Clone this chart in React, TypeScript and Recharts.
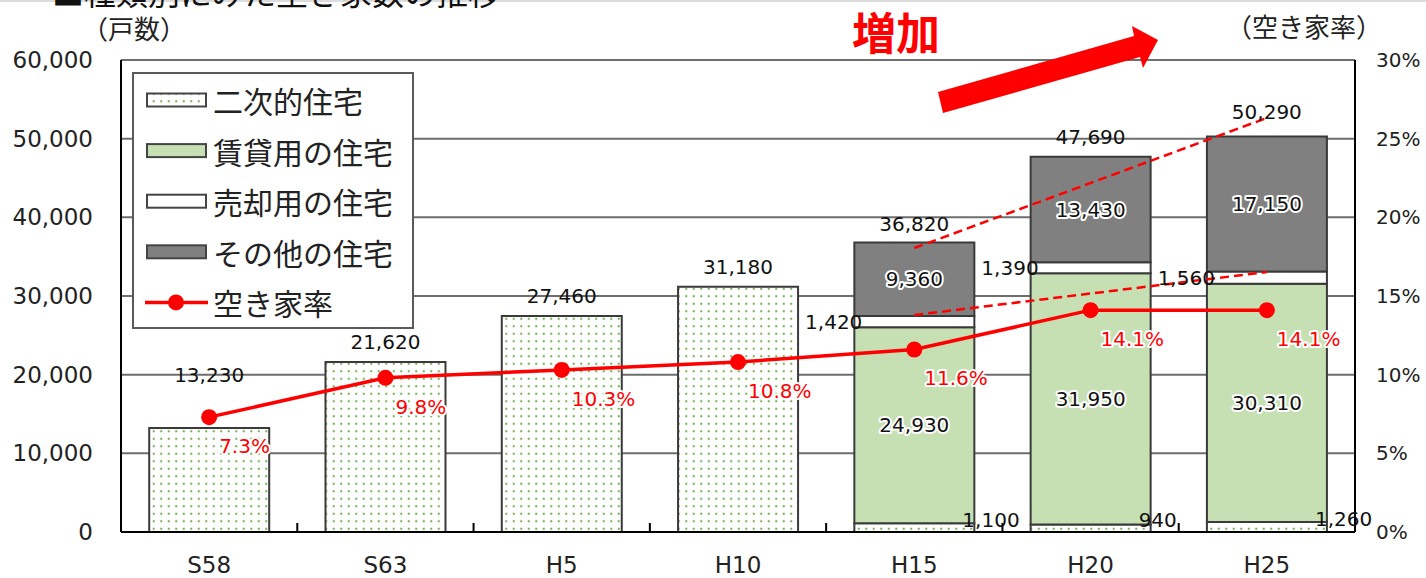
import React from 'react';
import {
  ComposedChart,
  Bar,
  Line,
  XAxis,
  YAxis,
  CartesianGrid,
  LabelList,
  ReferenceLine,
} from 'recharts';

// ---------- data ----------
const categories = ['S58', 'S63', 'H5', 'H10', 'H15', 'H20', 'H25'];
const secondHome = [13230, 21620, 27460, 31180, 1100, 940, 1260];
const rental = [null, null, null, null, 24930, 31950, 30310];
const forSale = [null, null, null, null, 1420, 1390, 1560];
const otherHomes = [null, null, null, null, 9360, 13430, 17150];
const totals = [13230, 21620, 27460, 31180, 36820, 47690, 50290];
const vacancyRate = [7.3, 9.8, 10.3, 10.8, 11.6, 14.1, 14.1];
const leftTicks = [0, 10000, 20000, 30000, 40000, 50000, 60000];
const rightTicks = [0, 5, 10, 15, 20, 25, 30];
const seriesNames = ['二次的住宅', '賃貸用の住宅', '売却用の住宅', 'その他の住宅', '空き家率'];
const trendUpper = [36100, 52630]; // dashed guide, values at H15 and H25
const trendLower = [27580, 33050];

// label lift (px) of total labels above the bar tops
const totalLabelLift = [53, 20, 20, 20, 18, 20, 24];

const data = categories.map((c, i) => ({
  cat: c,
  secondHome: secondHome[i],
  rental: rental[i],
  forSale: forSale[i],
  other: otherHomes[i],
  total: totals[i],
  rate: vacancyRate[i],
}));

// ---------- style ----------
const FONT_NUM = '"DejaVu Sans", "Noto Sans CJK JP", sans-serif';
const FONT_JP = '"Noto Sans CJK JP", "Noto Sans", sans-serif';
const GREEN = '#c6e0b4';
const GRAY = '#808080';
const RED = '#ff0000';
const DOT_GREEN = '#6fae4e';
const BAR_STROKE = '#3a3a3a';

const fmt = (v: number) => v.toLocaleString('en-US');

const box = (p: any) => {
  const v = p.viewBox && p.viewBox.x != null ? p.viewBox : p;
  return { x: Number(v.x), y: Number(v.y), width: Number(v.width || 0), height: Number(v.height || 0) };
};

const halo = { stroke: '#ffffff', strokeWidth: 4, paintOrder: 'stroke', strokeLinejoin: 'round' } as any;

const InsideLabel = (p: any) => {
  if (p.value == null || p.value === 0) return null;
  const { x, y, width, height } = box(p);
  if (!height) return null;
  return (
    <text x={x + width / 2} y={y + height / 2} textAnchor="middle" dominantBaseline="central"
      fontSize={20} fontFamily={FONT_NUM} fill="#111" style={halo}>
      {fmt(p.value)}
    </text>
  );
};

const ForSaleLabel = (p: any) => {
  if (p.value == null || p.value === 0) return null;
  const { x, y, height } = box(p);
  return (
    <text x={x + 8} y={y + height / 2} textAnchor="end" dominantBaseline="central"
      fontSize={20} fontFamily={FONT_NUM} fill="#111">
      {fmt(p.value)}
    </text>
  );
};

const SecondHomeLabel = (p: any) => {
  if (p.value == null || p.value > 5000) return null;
  const { x, y, width, height } = box(p);
  return (
    <text x={x + width - 12} y={y + height / 2 - 8} textAnchor="start" dominantBaseline="central"
      fontSize={20} fontFamily={FONT_NUM} fill="#111">
      {fmt(p.value)}
    </text>
  );
};

const TotalLabel = (p: any) => {
  if (p.value == null) return null;
  const { x, y } = box(p);
  let idx = typeof p.index === 'number' ? p.index : totals.indexOf(Number(p.value));
  if (idx < 0) idx = 0;
  return (
    <text x={x} y={y - totalLabelLift[idx]} textAnchor="middle" dominantBaseline="central"
      fontSize={20} fontFamily={FONT_NUM} fill="#111">
      {fmt(p.value)}
    </text>
  );
};

const RateLabel = (p: any) => {
  if (p.value == null) return null;
  const { x, y } = box(p);
  return (
    <text x={x + 10} y={y + 29} textAnchor="start" dominantBaseline="central"
      fontSize={20} fontFamily={FONT_NUM} fill={RED} style={halo}>
      {`${p.value}%`}
    </text>
  );
};

const HALF_BAND = (1355 - 121) / categories.length / 2;

const XTick = (p: any) => {
  const { x, y, payload } = p;
  const off = payload && payload.offset ? payload.offset : HALF_BAND;
  const isLast = payload.value === categories[categories.length - 1];
  return (
    <g>
      {!isLast && (
        <line x1={x + off} x2={x + off} y1={y} y2={y - 9} stroke="#000" strokeWidth={2} />
      )}
      <text x={x} y={y + 33} textAnchor="middle" dominantBaseline="central"
        fontSize={23} fontFamily={FONT_NUM} fill="#222">
        {payload.value}
      </text>
    </g>
  );
};

const DotPattern = ({ id }: { id: string }) => (
  <pattern id={id} patternUnits="userSpaceOnUse" width={7.5} height={7.5}>
    <rect width={7.5} height={7.5} fill="#ffffff" />
    <circle cx={3.75} cy={3.75} r={1.1} fill={DOT_GREEN} />
  </pattern>
);

const legendRows = [
  { kind: 'rect', fill: 'url(#dotsLegend)' },
  { kind: 'rect', fill: GREEN },
  { kind: 'rect', fill: '#ffffff' },
  { kind: 'rect', fill: GRAY },
  { kind: 'line', fill: RED },
];

export default function App() {
  return (
    <div style={{ position: 'relative', width: 1426, height: 578, background: '#fff', overflow: 'hidden' }}>
      <style>{`body{margin:0;}`}</style>
      <div style={{ position: 'absolute', left: 0, top: 0 }}>
        <ComposedChart width={1426} height={578} data={data}
          margin={{ top: 60, right: 0, bottom: 0, left: 0 }} barCategoryGap="16%">
          <defs>
            <DotPattern id="dotsBar" />
          </defs>
          <CartesianGrid yAxisId="left" vertical={false} stroke="#6e6e6e" strokeWidth={2} />
          <XAxis dataKey="cat" height={46} tickSize={0} tickMargin={0} tickLine={false}
            axisLine={{ stroke: '#000', strokeWidth: 2 }} tick={<XTick />} interval={0} />
          <YAxis yAxisId="left" orientation="left" width={121} domain={[0, 60000]} ticks={leftTicks}
            tickFormatter={(v: number) => fmt(v)} tickSize={0} tickMargin={28} tickLine={false}
            axisLine={{ stroke: '#000', strokeWidth: 2 }} interval={0}
            tick={{ fontSize: 23, fill: '#222', fontFamily: FONT_NUM }} />
          <YAxis yAxisId="right" orientation="right" width={71} domain={[0, 30]} ticks={rightTicks}
            tickFormatter={(v: number) => `${v}%`} tickSize={0} tickMargin={21} tickLine={false}
            axisLine={{ stroke: '#000', strokeWidth: 2 }} interval={0}
            tick={{ fontSize: 20, fill: '#222', fontFamily: FONT_NUM }} />

          <Bar yAxisId="left" dataKey="secondHome" name={seriesNames[0]} stackId="s" fill="url(#dotsBar)"
            stroke={BAR_STROKE} strokeWidth={2} isAnimationActive={false}>
            <LabelList dataKey="secondHome" content={SecondHomeLabel} />
          </Bar>
          <Bar yAxisId="left" dataKey="rental" name={seriesNames[1]} stackId="s" fill={GREEN}
            stroke={BAR_STROKE} strokeWidth={2} isAnimationActive={false}>
            <LabelList dataKey="rental" content={InsideLabel} />
          </Bar>
          <Bar yAxisId="left" dataKey="forSale" name={seriesNames[2]} stackId="s" fill="#ffffff"
            stroke={BAR_STROKE} strokeWidth={2} isAnimationActive={false}>
            <LabelList dataKey="forSale" content={ForSaleLabel} />
          </Bar>
          <Bar yAxisId="left" dataKey="other" name={seriesNames[3]} stackId="s" fill={GRAY}
            stroke={BAR_STROKE} strokeWidth={2} isAnimationActive={false}>
            <LabelList dataKey="other" content={InsideLabel} />
          </Bar>

          <Line yAxisId="left" dataKey="total" stroke="none" dot={false} activeDot={false}
            legendType="none" isAnimationActive={false}>
            <LabelList dataKey="total" content={TotalLabel} />
          </Line>

          <ReferenceLine yAxisId="left" ifOverflow="visible"
            segment={[{ x: 'H15', y: trendUpper[0] }, { x: 'H25', y: trendUpper[1] }]}
            stroke={RED} strokeWidth={2.5} strokeDasharray="9 5" />
          <ReferenceLine yAxisId="left" ifOverflow="visible"
            segment={[{ x: 'H15', y: trendLower[0] }, { x: 'H25', y: trendLower[1] }]}
            stroke={RED} strokeWidth={2.5} strokeDasharray="9 5" />

          <Line yAxisId="right" dataKey="rate" name={seriesNames[4]} stroke={RED} strokeWidth={3.5}
            dot={{ r: 8, fill: RED, stroke: RED, strokeWidth: 0 }} activeDot={false}
            isAnimationActive={false}>
            <LabelList dataKey="rate" content={RateLabel} />
          </Line>
        </ComposedChart>
      </div>

      <svg width={1426} height={578} style={{ position: 'absolute', left: 0, top: 0, pointerEvents: 'none' }}>
        <defs>
          <DotPattern id="dotsLegend" />
        </defs>
        <rect x={0} y={0} width={1426} height={2} fill="#dcdcdc" />
        <text x={52} y={5} fontSize={32} fontFamily={FONT_JP} fill="#111">■種類別にみた空き家数の推移</text>
        <text x={82} y={27} dominantBaseline="central" fontSize={26} fontFamily={FONT_JP} fill="#222">（戸数）</text>
        <text x={1226} y={25} dominantBaseline="central" fontSize={26} fontFamily={FONT_JP} fill="#222">（空き家率）</text>
        <text x={852} y={31} dominantBaseline="central" fontSize={44} fontWeight="bold" fontFamily={FONT_JP} fill={RED}>増加</text>
        <polygon points="938,92 1134,36 1132,26 1158,40 1143,68 1140,57 943,113" fill={RED} />

        {/* legend */}
        <rect x={133} y={73} width={280} height={255} fill="#ffffff" stroke="#5a5a5a" strokeWidth={2} />
        {legendRows.map((r, i) => {
          const cy = 100 + i * 50.6;
          return (
            <g key={i}>
              {r.kind === 'rect' ? (
                <rect x={147} y={cy - 6.5} width={59} height={13} fill={r.fill} stroke="#444" strokeWidth={2} />
              ) : (
                <g>
                  <line x1={145} x2={208} y1={cy} y2={cy} stroke={RED} strokeWidth={3.5} />
                  <circle cx={176} cy={cy} r={8} fill={RED} />
                </g>
              )}
              <text x={213} y={cy} dominantBaseline="central" fontSize={30} fontFamily={FONT_JP} fill="#222">
                {seriesNames[i]}
              </text>
            </g>
          );
        })}
      </svg>
    </div>
  );
}
